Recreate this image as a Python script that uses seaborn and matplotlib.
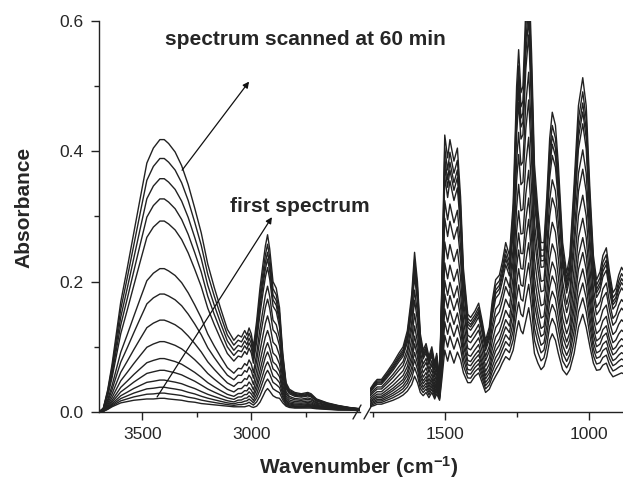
import numpy as np
import pandas as pd
import matplotlib
matplotlib.use("Agg")
import matplotlib.pyplot as plt
import seaborn as sns
from matplotlib.lines import Line2D

# ---- data (absorbance vs wavenumber, cm-1) ----
# high-wavenumber panel
left_wn = [3700, 3680, 3660, 3640, 3620, 3600, 3570, 3540, 3510, 3480,
           3450, 3420, 3400, 3380, 3350, 3320, 3290, 3260, 3230, 3200,
           3170, 3140, 3110, 3080, 3060, 3045, 3030, 3020, 3010, 3000,
           2990, 2975, 2960, 2945, 2935, 2925, 2915, 2900, 2885, 2870,
           2855, 2840, 2825, 2800, 2770, 2740, 2725, 2700, 2650, 2600,
           2550, 2500]
# first spectrum
left_first = [0.000, 0.001, 0.004, 0.008, 0.011, 0.014, 0.016, 0.018, 0.019, 0.020,
              0.020, 0.021, 0.021, 0.020, 0.019, 0.018, 0.016, 0.015, 0.013, 0.012,
              0.011, 0.010, 0.009, 0.008, 0.008, 0.008, 0.008, 0.009, 0.010, 0.008,
              0.007, 0.009, 0.015, 0.025, 0.032, 0.036, 0.032, 0.025, 0.022, 0.021,
              0.014, 0.009, 0.007, 0.006, 0.006, 0.006, 0.006, 0.005, 0.004, 0.003,
              0.003, 0.002]
# growth of the broad O-H band between first and last scan
left_oh_growth = [0.000, 0.005, 0.030, 0.065, 0.110, 0.155, 0.205, 0.257, 0.310, 0.362,
                  0.385, 0.397, 0.397, 0.392, 0.380, 0.360, 0.333, 0.298, 0.262, 0.215,
                  0.180, 0.148, 0.118, 0.100, 0.090, 0.083, 0.077, 0.070, 0.066, 0.062,
                  0.058, 0.052, 0.047, 0.042, 0.039, 0.036, 0.033, 0.029, 0.025, 0.021,
                  0.018, 0.015, 0.013, 0.010, 0.008, 0.006, 0.005, 0.004, 0.002, 0.001,
                  0.000, 0.000]
# growth of the C-H bands between first and last scan
left_band_growth = [0.0] * 23 + [
    0.002, 0.020, 0.024, 0.040, 0.039, 0.053, 0.050,
    0.035, 0.079, 0.128, 0.163, 0.184, 0.200, 0.185, 0.146, 0.143, 0.118,
    0.058, 0.021, 0.015, 0.014, 0.014, 0.018, 0.017, 0.011, 0.008, 0.006,
    0.004, 0.003]

# fingerprint panel
right_wn = [1760, 1745, 1735, 1720, 1700, 1680, 1660, 1645, 1630, 1615,
            1605, 1595, 1585, 1575, 1565, 1555, 1545, 1535, 1528, 1518,
            1510, 1500, 1490, 1482, 1468, 1456, 1445, 1435, 1420, 1410,
            1395, 1382, 1370, 1358, 1345, 1335, 1323, 1310, 1300, 1288,
            1275, 1262, 1250, 1243, 1235, 1228, 1218, 1208, 1198, 1188,
            1176, 1165, 1155, 1145, 1135, 1126, 1115, 1105, 1090, 1076,
            1065, 1050, 1035, 1020, 1008, 995, 983, 972, 960, 950,
            938, 927, 915, 905, 895, 885, 880]
right_first = [0.008, 0.010, 0.012, 0.012, 0.015, 0.018, 0.022, 0.026, 0.032, 0.042,
               0.055, 0.045, 0.030, 0.025, 0.030, 0.022, 0.030, 0.020, 0.028, 0.018,
               0.050, 0.095, 0.078, 0.094, 0.075, 0.092, 0.080, 0.060, 0.045, 0.045,
               0.055, 0.060, 0.045, 0.030, 0.035, 0.045, 0.055, 0.065, 0.075, 0.085,
               0.080, 0.095, 0.125, 0.140, 0.125, 0.120, 0.140, 0.160, 0.130, 0.090,
               0.075, 0.065, 0.070, 0.085, 0.110, 0.120, 0.110, 0.090, 0.065, 0.057,
               0.065, 0.090, 0.130, 0.150, 0.130, 0.100, 0.075, 0.064, 0.065, 0.072,
               0.075, 0.062, 0.054, 0.056, 0.058, 0.060, 0.059]
right_last = [0.035, 0.045, 0.050, 0.050, 0.062, 0.075, 0.090, 0.100, 0.125, 0.180,
              0.245, 0.200, 0.120, 0.095, 0.105, 0.085, 0.100, 0.075, 0.090, 0.050,
              0.200, 0.425, 0.390, 0.418, 0.385, 0.405, 0.330, 0.220, 0.150, 0.145,
              0.155, 0.167, 0.140, 0.110, 0.130, 0.170, 0.203, 0.210, 0.230, 0.260,
              0.240, 0.320, 0.500, 0.556, 0.490, 0.500, 0.620, 0.680, 0.550, 0.380,
              0.310, 0.260, 0.260, 0.330, 0.420, 0.460, 0.440, 0.380, 0.260, 0.213,
              0.240, 0.350, 0.470, 0.513, 0.470, 0.340, 0.240, 0.203, 0.215, 0.240,
              0.252, 0.215, 0.183, 0.190, 0.210, 0.222, 0.218]

# level of each scan (first -> 60 min): O-H peak height and ~1470 band height
oh_levels = [0.022, 0.030, 0.039, 0.050, 0.065, 0.083, 0.109, 0.142,
             0.182, 0.221, 0.294, 0.328, 0.359, 0.390, 0.419]
band_levels = [0.092, 0.114, 0.134, 0.153, 0.175, 0.195, 0.221, 0.252,
               0.287, 0.313, 0.348, 0.364, 0.376, 0.391, 0.410]


def scan_fractions(levels):
    lv = np.asarray(levels)
    return (lv - lv[0]) / (lv[-1] - lv[0])


def build_frames():
    f_oh = scan_fractions(oh_levels)
    f_band = scan_fractions(band_levels)
    lf, oh, bd = map(np.asarray, (left_first, left_oh_growth, left_band_growth))
    rf, rl = np.asarray(right_first), np.asarray(right_last)
    left_rows, right_rows = [], []
    for i in range(len(oh_levels)):
        a = lf + f_oh[i] * oh + f_band[i] * bd
        left_rows.append(pd.DataFrame({"wavenumber": left_wn, "absorbance": a, "scan": i}))
        b = rf + f_band[i] * (rl - rf)
        right_rows.append(pd.DataFrame({"wavenumber": right_wn, "absorbance": b, "scan": i}))
    return pd.concat(left_rows), pd.concat(right_rows)


sns.set_style("ticks")
plt.rcParams["font.family"] = ["Liberation Sans", "DejaVu Sans"]
plt.rcParams["mathtext.default"] = "regular"

W, H = 623, 483
fig = plt.figure(figsize=(W / 100, H / 100), dpi=100)
ax1 = fig.add_axes([99 / W, 1 - 412 / H, (360 - 99) / W, 391 / H])
ax2 = fig.add_axes([370 / W, 1 - 412 / H, (623 - 370) / W, 391 / H])
for ax in (ax1, ax2):
    ax.set_facecolor("none")

df_left, df_right = build_frames()
line_kw = dict(x="wavenumber", y="absorbance", units="scan", estimator=None,
               color="#222222", lw=1.0, legend=False, sort=False)
sns.lineplot(data=df_left, ax=ax1, **line_kw)
sns.lineplot(data=df_right, ax=ax2, **line_kw)

ax1.set_xlim(3700, 2500)
ax2.set_xlim(1760, 880)
for ax in (ax1, ax2):
    ax.set_ylim(0, 0.6)
    ax.set_xlabel("")
    ax.spines["top"].set_visible(False)
    ax.spines["right"].set_visible(False)
    ax.tick_params(which="major", length=6, width=1, labelsize=12.5, pad=5, color="#222222")
    ax.tick_params(which="minor", length=3.5, width=1, color="#222222")
    for s in ax.spines.values():
        s.set_linewidth(1.0)
        s.set_color("#222222")

ax1.set_xticks([3500, 3000])
ax1.set_xticks([3250, 2750], minor=True)
ax2.set_xticks([1500, 1000])
ax2.set_xticks([1750, 1250], minor=True)
ax1.set_yticks([0.0, 0.2, 0.4, 0.6])
ax1.set_yticks([0.1, 0.3, 0.5], minor=True)
ax1.set_yticklabels(["0.0", "0.2", "0.4", "0.6"])

ax2.spines["left"].set_visible(False)
ax2.tick_params(axis="y", which="both", left=False, labelleft=False)
ax2.set_ylabel("")

ax1.set_ylabel("Absorbance", fontsize=15, fontweight="bold")
ax1.yaxis.set_label_coords(-0.25, 0.524)
fig.text(359 / W, 1 - 467 / H, "Wavenumber (cm$^{-1}$)", fontsize=15,
         fontweight="bold", ha="center", va="center")

# axis break marks
for cx in (357, 368):
    fig.add_artist(Line2D([(cx - 4) / W, (cx + 4) / W],
                          [1 - 419 / H, 1 - 405 / H],
                          color="#222222", lw=1.0))

# annotations
arrow = dict(arrowstyle="-|>", color="#111111", lw=0.9, mutation_scale=9,
             shrinkA=0, shrinkB=0)
ax1.annotate("", xy=(3010, 0.507), xytext=(3318, 0.371), arrowprops=arrow)
ax1.annotate("", xy=(2905, 0.299), xytext=(3433, 0.023), arrowprops=arrow)
ax1.text(3397, 0.571, "spectrum scanned at 60 min", fontsize=15,
         fontweight="bold", ha="left", va="center", clip_on=False, zorder=10)
ax1.text(3098, 0.315, "first spectrum", fontsize=15,
         fontweight="bold", ha="left", va="center", clip_on=False, zorder=10)

fig.savefig("out.png", dpi=100)
